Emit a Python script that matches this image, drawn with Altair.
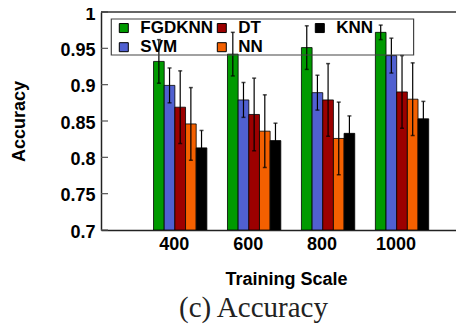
import altair as alt
import pandas as pd

scales = ["400", "600", "800", "1000"]
methods = ["FGDKNN", "SVM", "DT", "NN", "KNN"]
colors = ["#009a00", "#5060d0", "#9c0000", "#f46000", "#000000"]
accuracy = {
    "FGDKNN": [0.932, 0.942, 0.951, 0.972],
    "SVM":    [0.899, 0.879, 0.889, 0.940],
    "DT":     [0.869, 0.859, 0.879, 0.890],
    "NN":     [0.846, 0.836, 0.826, 0.880],
    "KNN":    [0.813, 0.823, 0.833, 0.853],
}
err = {
    "FGDKNN": [0.030, 0.030, 0.030, 0.010],
    "SVM":    [0.024, 0.024, 0.024, 0.024],
    "DT":     [0.050, 0.050, 0.050, 0.050],
    "NN":     [0.050, 0.050, 0.050, 0.050],
    "KNN":    [0.024, 0.024, 0.024, 0.024],
}
y_ticks = [0.7, 0.75, 0.8, 0.85, 0.9, 0.95, 1.0]

rows = []
for m in methods:
    for i, s in enumerate(scales):
        v = accuracy[m][i]
        e = err[m][i]
        rows.append({"scale": s, "method": m, "acc": v, "lo": v - e, "hi": v + e})
df = pd.DataFrame(rows)

FONT = "Liberation Sans"
FS = 18
W, H = 355, 218

xaxis = alt.Axis(labelAngle=0, ticks=False, labelOffset=-6, labelPadding=5,
                 titleX=185, titlePadding=17)
xscale = alt.Scale(paddingInner=0.279, paddingOuter=0.54, align=0.658)
xenc = alt.X("scale:N", sort=scales, title="Training Scale", scale=xscale, axis=xaxis)
xoff = alt.XOffset("method:N", sort=methods, scale=alt.Scale(paddingInner=0, paddingOuter=0))
yscale = alt.Scale(domain=[0.7, 1.0], nice=False, zero=False)
yaxis = alt.Axis(values=y_ticks, grid=False, ticks=False, labelPadding=6,
                 labelOverlap=False, labelOffset=2, titlePadding=31, format="~g")

def yenc(field):
    return alt.Y(field, scale=yscale, title="Accuracy", axis=yaxis)

base = alt.Chart(df)

bars = base.mark_bar(stroke="black", strokeWidth=0.8, clip=True).encode(
    x=xenc,
    xOffset=xoff,
    y=yenc("acc:Q"),
    y2=alt.Y2(datum=0.7),
    color=alt.Color("method:N", scale=alt.Scale(domain=methods, range=colors),
                    legend=alt.Legend(title=None, orient="none", legendX=14.3, legendY=7.3,
                                      columns=3, gridAlign="all", symbolType="square",
                                      symbolSize=81, symbolStrokeColor="black",
                                      symbolStrokeWidth=1,
                                      labelOffset=8, labelFont=FONT, labelFontSize=17,
                                      labelFontWeight="bold", labelColor="black",
                                      padding=0, rowPadding=1.4, columnPadding=0,
                                      symbolOpacity=1)),
)

rules = base.mark_rule(color="black", strokeWidth=1.2).encode(
    x=xenc, xOffset=xoff, y=yenc("lo:Q"), y2="hi:Q",
)
cap_lo = base.mark_tick(color="black", size=4, thickness=1.5).encode(
    x=xenc, xOffset=xoff, y=yenc("lo:Q"),
)
cap_hi = base.mark_tick(color="black", size=4, thickness=1.5).encode(
    x=xenc, xOffset=xoff, y=yenc("hi:Q"),
)

tick_df = pd.DataFrame({"v": y_ticks})
yticks = alt.Chart(tick_df).mark_rule(color="#555555", strokeWidth=1.2).encode(
    x=alt.value(0), x2=alt.value(7), y=yenc("v:Q"),
)
top_line = alt.Chart(pd.DataFrame({"v": [1.0]})).mark_rule(color="#333333", strokeWidth=1.5).encode(
    x=alt.value(0), x2=alt.value(W), y=yenc("v:Q"),
)
legend_box = alt.Chart(pd.DataFrame({"a": [0]})).mark_rect(
    fill=None, stroke="#444444", strokeWidth=1.2
).encode(
    x=alt.value(10.3), x2=alt.value(312.6), y=alt.value(7), y2=alt.value(43),
)

chart = alt.layer(bars, rules, cap_lo, cap_hi, yticks, top_line, legend_box).properties(
    width=W, height=H,
    autosize=alt.AutoSizeParams(type="none"),
    padding={"left": 93, "top": 4, "right": 0, "bottom": 94},
    title=alt.TitleParams("(c) Accuracy", orient="bottom", anchor="middle", dx=-25,
                          font="Liberation Serif", fontSize=29, fontWeight="normal",
                          color="#222222", offset=6),
).configure_view(stroke=None).configure_axis(
    domainColor="#222222", domainWidth=1.5,
    labelFont=FONT, labelFontSize=FS, labelFontWeight="bold", labelColor="black",
    titleFont=FONT, titleFontSize=FS, titleFontWeight="bold", titleColor="black",
)

chart.save("out.html", embed_options={"renderer": "svg", "actions": False})
